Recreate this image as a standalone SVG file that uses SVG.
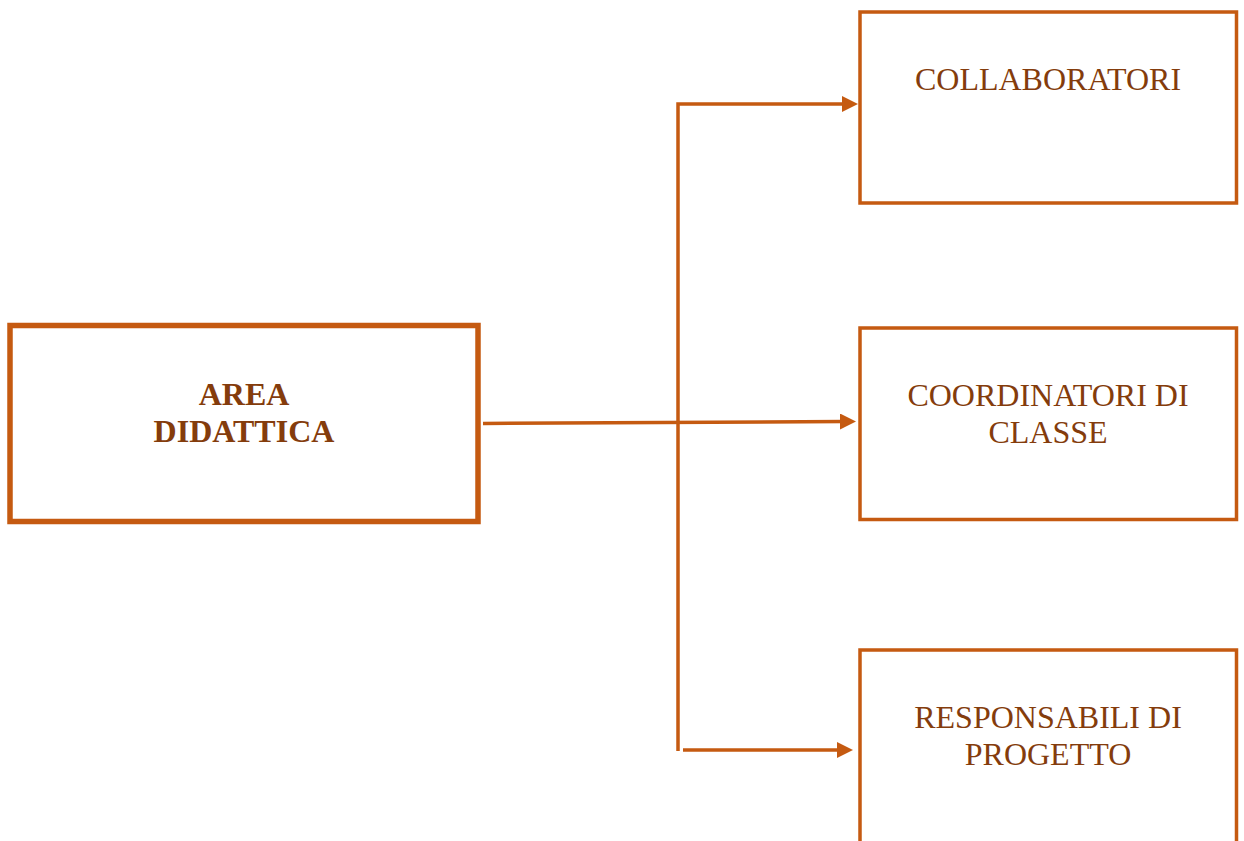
<svg xmlns="http://www.w3.org/2000/svg" width="1244" height="841" viewBox="0 0 1244 841">
<defs>
<style>
.box{fill:#fff;stroke:#C55A11;stroke-width:3.5}
.main{fill:#fff;stroke:#C55A11;stroke-width:5.5}
.t{font-family:"Liberation Serif","Times New Roman",serif;font-size:32px;fill:#843C0C;text-anchor:middle}
.b{font-weight:bold}
.c{fill:none;stroke:#C55A11;stroke-width:3.5}
</style>
<marker id="ah" viewBox="0 0 16 16" refX="4" refY="8" markerWidth="16" markerHeight="16" markerUnits="userSpaceOnUse" orient="auto">
<path d="M0,0 L16,8 L0,16 Z" fill="#C55A11"/>
</marker>
</defs>
<rect width="1244" height="841" fill="#fff"/>
<g id="connectors">
<polyline class="c" points="678,751 678,104 846,104" marker-end="url(#ah)"/>
<line class="c" x1="483" y1="423.5" x2="844" y2="421.5" marker-end="url(#ah)"/>
<line class="c" x1="683" y1="750" x2="841" y2="750" marker-end="url(#ah)"/>
</g>
<g id="area-didattica">
<rect class="main" x="10" y="325.5" width="468" height="196"/>
<text class="t b" x="244" y="405">AREA</text>
<text class="t b" x="244" y="442">DIDATTICA</text>
</g>
<g id="collaboratori">
<rect class="box" x="860" y="12" width="376.5" height="191"/>
<text class="t" x="1048" y="90">COLLABORATORI</text>
</g>
<g id="coordinatori">
<rect class="box" x="860" y="328" width="376.5" height="191.5"/>
<text class="t" x="1048" y="406">COORDINATORI DI</text>
<text class="t" x="1048" y="443">CLASSE</text>
</g>
<g id="responsabili">
<rect class="box" x="860" y="650" width="376.5" height="200"/>
<text class="t" x="1048" y="728">RESPONSABILI DI</text>
<text class="t" x="1048" y="765">PROGETTO</text>
</g>
</svg>
